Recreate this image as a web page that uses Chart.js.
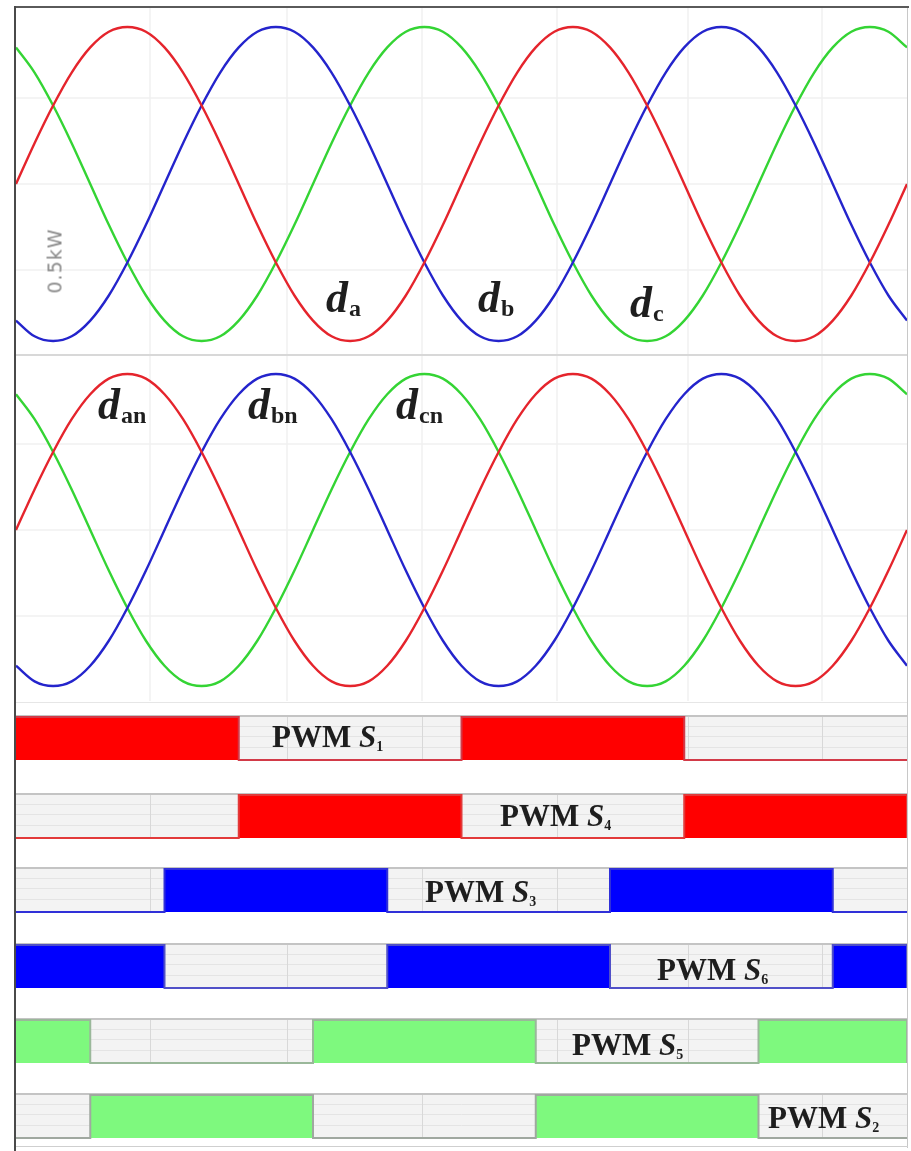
<!DOCTYPE html>
<html><head><meta charset="utf-8">
<script src="https://cdn.jsdelivr.net/npm/chart.js@4/dist/chart.umd.min.js"></script>
<style>
html,body{margin:0;padding:0;background:#fff;}
#wrap{position:relative;width:911px;height:1151px;overflow:hidden;background:#fff;}
canvas{position:absolute;}
.ln{position:absolute;}
.lbl{position:absolute;font-family:"Liberation Serif","DejaVu Serif",serif;color:#1e1e1e;white-space:nowrap;}
.dl{font-size:44px;line-height:44px;font-weight:bold;font-style:italic;}
.dl .s{font-size:24px;font-style:normal;position:relative;top:4px;margin-left:1px;}
.pl{font-size:31px;line-height:31px;font-weight:bold;}
.pl i{font-style:italic;}
.pl .s{font-size:14px;position:relative;top:4px;}
.rot{position:absolute;font-family:"DejaVu Sans",sans-serif;font-size:19px;letter-spacing:1px;color:#8a8a8a;transform:rotate(-90deg);transform-origin:center;white-space:nowrap;}
</style></head><body>
<div id="wrap"></div>
<script>
// ---------- DATA ----------
const angles=[0,15,30,45,60,75,90,105,120,135,150,165,180,195,210,225,240,255,270,285,300,315,330,345,
 360,375,390,405,420,435,450,465,480,495,510,525,540,555,570,585,600,615,630,645,660,675,690,705,720];
const da=[0,.26,.5,.71,.87,.97,1,.97,.87,.71,.5,.26,0,-.26,-.5,-.71,-.87,-.97,-1,-.97,-.87,-.71,-.5,-.26,
 0,.26,.5,.71,.87,.97,1,.97,.87,.71,.5,.26,0,-.26,-.5,-.71,-.87,-.97,-1,-.97,-.87,-.71,-.5,-.26,0];
const db=[-.87,-.97,-1,-.97,-.87,-.71,-.5,-.26,0,.26,.5,.71,.87,.97,1,.97,.87,.71,.5,.26,0,-.26,-.5,-.71,
 -.87,-.97,-1,-.97,-.87,-.71,-.5,-.26,0,.26,.5,.71,.87,.97,1,.97,.87,.71,.5,.26,0,-.26,-.5,-.71,-.87];
const dc=[.87,.71,.5,.26,0,-.26,-.5,-.71,-.87,-.97,-1,-.97,-.87,-.71,-.5,-.26,0,.26,.5,.71,.87,.97,1,.97,
 .87,.71,.5,.26,0,-.26,-.5,-.71,-.87,-.97,-1,-.97,-.87,-.71,-.5,-.26,0,.26,.5,.71,.87,.97,1,.97,.87];
const dan=[0,.26,.5,.71,.87,.97,1,.97,.87,.71,.5,.26,0,-.26,-.5,-.71,-.87,-.97,-1,-.97,-.87,-.71,-.5,-.26,
 0,.26,.5,.71,.87,.97,1,.97,.87,.71,.5,.26,0,-.26,-.5,-.71,-.87,-.97,-1,-.97,-.87,-.71,-.5,-.26,0];
const dbn=[-.87,-.97,-1,-.97,-.87,-.71,-.5,-.26,0,.26,.5,.71,.87,.97,1,.97,.87,.71,.5,.26,0,-.26,-.5,-.71,
 -.87,-.97,-1,-.97,-.87,-.71,-.5,-.26,0,.26,.5,.71,.87,.97,1,.97,.87,.71,.5,.26,0,-.26,-.5,-.71,-.87];
const dcn=[.87,.71,.5,.26,0,-.26,-.5,-.71,-.87,-.97,-1,-.97,-.87,-.71,-.5,-.26,0,.26,.5,.71,.87,.97,1,.97,
 .87,.71,.5,.26,0,-.26,-.5,-.71,-.87,-.97,-1,-.97,-.87,-.71,-.5,-.26,0,.26,.5,.71,.87,.97,1,.97,.87];
// PWM on-intervals (degrees)
const pwmNames=['S1','S4','S3','S6','S5','S2'];
const s1On=[[0,180],[360,540]];
const s4On=[[180,360],[540,720]];
const s3On=[[120,300],[480,660]];
const s6On=[[0,120],[300,480],[660,720]];
const s5On=[[0,60],[240,420],[600,720]];
const s2On=[[60,240],[420,600]];
const gridXVals=[108,219,328,437,543,651];
const gridYVals=[-0.55,0,0.55];

// ---------- LAYOUT ----------
const wrap=document.getElementById('wrap');
const PL=16, PW=891;
function addCanvas(top,h){const c=document.createElement('canvas');c.width=PW;c.height=h;c.style.left=PL+'px';c.style.top=top+'px';wrap.appendChild(c);return c;}
function line(l,t,w,h,col){const d=document.createElement('div');d.className='ln';Object.assign(d.style,{left:l+'px',top:t+'px',width:w+'px',height:h+'px',background:col});wrap.appendChild(d);}
function txt(html,cls,l,t){const d=document.createElement('div');d.className='lbl '+cls;d.style.left=l+'px';d.style.top=t+'px';d.innerHTML=html;wrap.appendChild(d);return d;}

const hiddenScales=(ymin,ymax)=>({x:{type:'linear',min:0,max:720,display:false},y:{type:'linear',min:ymin,max:ymax,display:false}});

const waveGrid={id:'waveGrid',beforeDatasetsDraw(chart){
  const {ctx,chartArea:a,scales:{x,y}}=chart;ctx.save();ctx.strokeStyle='#f0f0f0';ctx.lineWidth=1.5;
  gridXVals.forEach(v=>{const px=Math.round(x.getPixelForValue(v));ctx.beginPath();ctx.moveTo(px,a.top);ctx.lineTo(px,a.bottom);ctx.stroke();});
  gridYVals.forEach(v=>{const py=Math.round(y.getPixelForValue(v));ctx.beginPath();ctx.moveTo(a.left,py);ctx.lineTo(a.right,py);ctx.stroke();});
  ctx.restore();}};

function wave(top,h,ymin,ymax,series){
  const c=addCanvas(top,h);
  const cols=['#e5242c','#2424cc','#34d434'];
  new Chart(c,{type:'line',
    data:{datasets:series.map((s,i)=>({data:s.map((v,k)=>({x:angles[k],y:v})),borderColor:cols[i],borderWidth:2.4,pointRadius:0,cubicInterpolationMode:'monotone',fill:false}))},
    options:{responsive:false,animation:false,events:[],layout:{padding:0},plugins:{legend:{display:false},tooltip:{enabled:false}},scales:hiddenScales(ymin,ymax)},
    plugins:[waveGrid]});
}

const pwmBg={id:'pwmBg',beforeDraw(chart){
  const {ctx,chartArea:a,scales:{x,y}}=chart;const t=y.getPixelForValue(1),b=y.getPixelForValue(0);
  ctx.save();ctx.fillStyle='#f3f3f3';ctx.fillRect(a.left,t,a.right-a.left,b-t);
  ctx.strokeStyle='#e4e4e4';ctx.lineWidth=1;
  [0.3,0.55,0.8].forEach(v=>{const py=Math.round(y.getPixelForValue(v))+0.5;ctx.beginPath();ctx.moveTo(a.left,py);ctx.lineTo(a.right,py);ctx.stroke();});
  ctx.strokeStyle='#d8d8d8';
  gridXVals.forEach(v=>{const px=Math.round(x.getPixelForValue(v))+0.5;ctx.beginPath();ctx.moveTo(px,t);ctx.lineTo(px,b);ctx.stroke();});
  ctx.strokeStyle='#c4c4c4';ctx.lineWidth=2;ctx.beginPath();ctx.moveTo(a.left,t-1);ctx.lineTo(a.right,t-1);ctx.stroke();
  ctx.restore();}};

function pwm(top,on,color,lineCol){
  const H=43, pad=3, h=H+2*pad+1;
  const c=addCanvas(top-pad,h);
  const pts=[];
  const edges=[];on.forEach(([s,e])=>{edges.push([s,1]);edges.push([e,0]);});
  if(edges[0][0]!==0)pts.push({x:0,y:0});
  edges.forEach(([xv,yv])=>{if(pts.length&&pts[pts.length-1].x===xv)pts[pts.length-1].y=yv;else pts.push({x:xv,y:yv});});
  if(pts[pts.length-1].x<720)pts.push({x:720,y:pts[pts.length-1].y});
  const ymax=1+pad/H, ymin=-(h-H-pad)/H;
  new Chart(c,{type:'line',
    data:{datasets:[{data:pts,stepped:'before',borderColor:lineCol,borderWidth:2,pointRadius:0,fill:{target:'origin'},backgroundColor:color}]},
    options:{responsive:false,animation:false,events:[],layout:{padding:0},plugins:{legend:{display:false},tooltip:{enabled:false},filler:{propagate:false}},scales:hiddenScales(ymin,ymax)},
    plugins:[pwmBg]});
}

// waveform panels
wave(8,347,-1.089,1.121,[da,db,dc]);
wave(356,345,-1.096,1.115,[dan,dbn,dcn]);
line(16,354,891,2,'#d8d8d8');
line(16,702,891,1,'#e6e6e6');

// PWM strips
const pwmTops=[717,795,869,945,1020,1095];
const pwmOn=[s1On,s4On,s3On,s6On,s5On,s2On];
const pwmFill=['#ff0000','#ff0000','#0000ff','#0000ff','#7ef97e','#7ef97e'];
const pwmLine=['#d23a48','#e23a3a','#3030d8','#5050c8','#9ab89a','#a0a8a0'];
pwmTops.forEach((t,i)=>pwm(t,pwmOn[i],pwmFill[i],pwmLine[i]));

// frame
line(14,6,895,2,'#5a5a5a');
line(14,6,2,1145,'#4a4a4a');
line(907,8,1,1140,'#c8c8c8');
line(16,1146,892,1,'#cfcfcf');

// labels
const dLab=[['a',326,313],['b',478,313],['c',630,318],['an',98,420],['bn',248,420],['cn',396,420]];
dLab.forEach(([s,l,b])=>txt('d<span class="s">'+s+'</span>','dl',l,b-37));
const pLab=[[272,747],[500,826],[425,902],[657,980],[572,1055],[768,1128]];
pLab.forEach(([l,b],i)=>txt('PWM <i>S</i><span class="s">'+pwmNames[i].slice(1)+'</span>','pl',l,b-26));
const r=document.createElement('div');r.className='rot';r.textContent='0.5kW';
r.style.left='22px';r.style.top='250px';wrap.appendChild(r);
</script>
</body></html>
